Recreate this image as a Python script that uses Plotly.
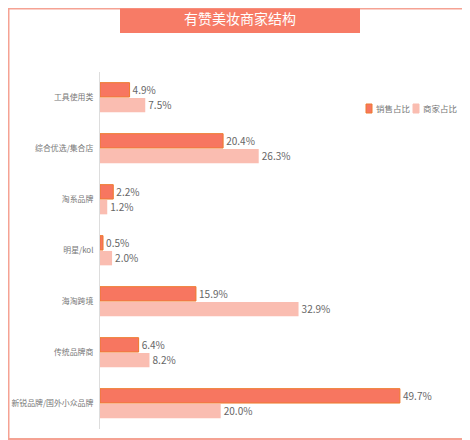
import plotly.graph_objects as go

categories = ['工具使用类', '综合优选/集合店', '淘系品牌', '明星/kol', '海淘跨境', '传统品牌商', '新锐品牌/国外小众品牌']
sales_share = [4.9, 20.4, 2.2, 0.5, 15.9, 6.4, 49.7]
merchant_share = [7.5, 26.3, 1.2, 2.0, 32.9, 8.2, 20.0]
series_names = ['销售占比', '商家占比']
series_colors = ['#F77660', '#FABDB1']

# page has an 8px body margin, so the figure is laid out in page pixels minus 8
OFF = 8
W, H = 462, 432
ml, mr, mt, mb = 92, 20, 64, 11
pw, ph = W - ml - mr, H - mt - mb

def px_x(p):
    return (max(p - OFF, 0.5) - ml) / pw

def px_y(p):
    return (H - mb - max(p - OFF, 0.5)) / ph

fig = go.Figure()
fig.add_trace(go.Bar(
    y=categories, x=sales_share, orientation='h', name=series_names[0],
    marker=dict(color=series_colors[0], line=dict(color='#EE7A2C', width=1)),
    text=[f'{v:.1f}%' for v in sales_share], textposition='outside',
    textfont=dict(color='#666666', size=10.5), cliponaxis=False,
))
fig.add_trace(go.Bar(
    y=categories, x=merchant_share, orientation='h', name=series_names[1],
    marker=dict(color=series_colors[1], line=dict(width=0)),
    text=[f'{v:.1f}%' for v in merchant_share], textposition='outside',
    textfont=dict(color='#666666', size=10.5), cliponaxis=False,
))

shapes = [
    dict(type='rect', xref='paper', yref='paper',
         x0=px_x(0), x1=px_x(469), y0=px_y(439), y1=px_y(0),
         line=dict(color='#F5A293', width=2), fillcolor='rgba(0,0,0,0)', layer='below'),
    dict(type='rect', xref='paper', yref='paper',
         x0=px_x(120), x1=px_x(360), y0=px_y(33), y1=px_y(0),
         line=dict(width=0), fillcolor='#F77B66'),
]
annotations = [
    dict(text='有赞美妆商家结构', xref='paper', yref='paper', x=px_x(240), y=px_y(18),
         xanchor='center', yanchor='middle', showarrow=False,
         font=dict(size=14, color='white')),
]
# legend: small squares with labels
for sx, name, color in zip([366, 413], series_names, series_colors):
    edge = '#EE7A2C' if color == series_colors[0] else color
    shapes.append(dict(type='rect', xref='paper', yref='paper',
                       x0=px_x(sx), x1=px_x(sx + 6), y0=px_y(113), y1=px_y(104),
                       fillcolor=color, line=dict(color=edge, width=1)))
    annotations.append(dict(text=name, xref='paper', yref='paper', x=px_x(sx + 8), y=px_y(108.5),
                            xanchor='left', yanchor='middle', showarrow=False,
                            font=dict(size=8.5, color='#777777')))

fig.update_layout(
    width=W, height=H,
    margin=dict(l=ml, r=mr, t=mt, b=mb, autoexpand=False),
    paper_bgcolor='white', plot_bgcolor='white',
    font=dict(family='Noto Sans CJK SC', color='#666666'),
    barmode='group', bargap=0.4, bargroupgap=0.06,
    showlegend=False,
    xaxis=dict(range=[0, 58], showgrid=False, zeroline=False, showticklabels=False,
               showline=False, fixedrange=True),
    yaxis=dict(categoryorder='array', categoryarray=categories, autorange='reversed',
               automargin=False,
               showline=True, linecolor='#DDDDDD', linewidth=1, ticks='',
               tickfont=dict(size=7.9, color='#777777'), ticklabelstandoff=4),
    shapes=shapes,
    annotations=annotations,
)

fig.write_html('out.html')
